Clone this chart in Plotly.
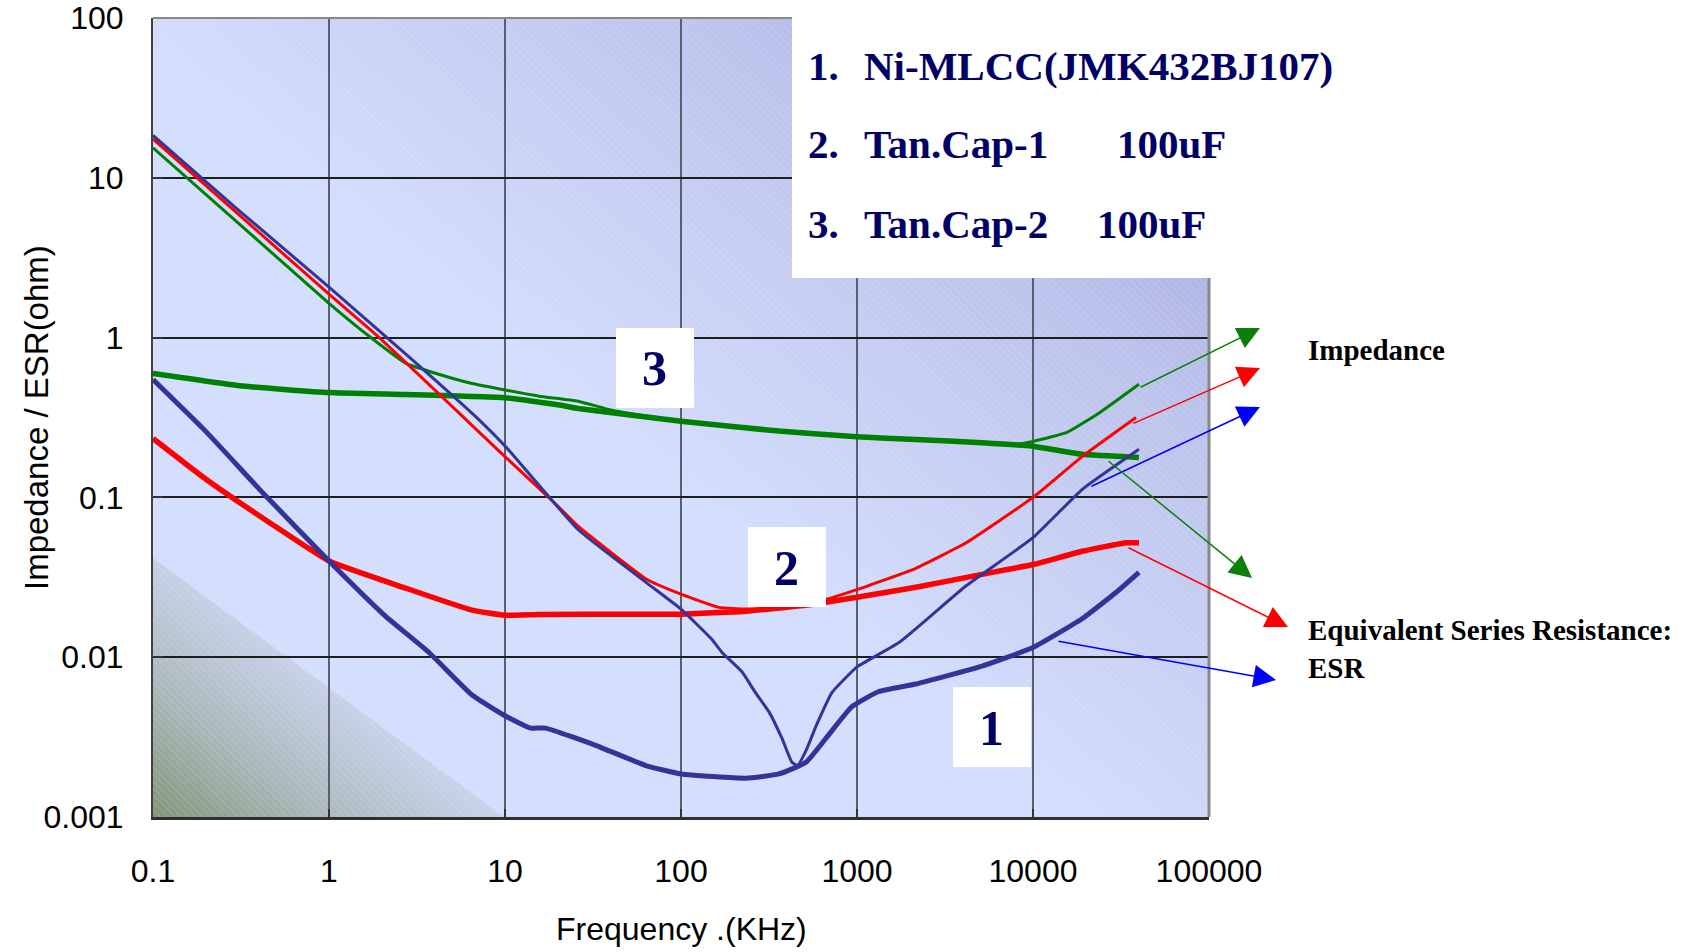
import base64
import plotly.graph_objects as go

# ---------------- data (frequency in kHz, value in ohm) ----------------
f_mlcc_z = [0.1, 0.3, 1, 3, 7.1, 10, 26, 63, 100, 150, 171, 222, 265, 318, 375, 427, 460, 513, 585, 720, 900, 1000, 1740, 4170, 10000, 19000, 40000]
z_mlcc_z = [18.4, 6.4, 2.07, 0.72, 0.307, 0.21, 0.063, 0.0295, 0.02, 0.0129, 0.0107, 0.0081, 0.006, 0.0045, 0.0031, 0.0022, 0.0021, 0.0026, 0.0037, 0.006, 0.0078, 0.0087, 0.0124, 0.028, 0.056, 0.112, 0.2]

f_mlcc_esr = [0.1, 0.2, 0.42, 1, 2.1, 3.7, 6.5, 10, 14, 17, 33, 63, 100, 234, 360, 513, 665, 935, 1330, 2160, 5130, 10000, 19000, 29700, 40000]
z_mlcc_esr = [0.546, 0.258, 0.107, 0.040, 0.018, 0.0107, 0.0058, 0.0043, 0.0036, 0.0036, 0.0028, 0.0021, 0.00186, 0.00175, 0.00186, 0.0022, 0.0031, 0.0049, 0.0061, 0.0068, 0.0088, 0.0115, 0.0174, 0.0255, 0.034]

f_tan1_z = [0.1, 1, 1.93, 10, 20, 26, 63, 100, 164, 234, 360, 660, 1000, 2160, 4170, 10000, 19000, 38500]
z_tan1_z = [17.5, 1.87, 1.0, 0.18, 0.088, 0.066, 0.031, 0.0248, 0.0205, 0.02, 0.0205, 0.023, 0.0265, 0.036, 0.052, 0.1, 0.18, 0.316]

f_tan1_esr = [0.1, 0.2, 0.474, 1, 2.74, 6.5, 10, 15.6, 50, 100, 234, 550, 1000, 2160, 5130, 10000, 19000, 34000, 40000]
z_tan1_esr = [0.234, 0.13, 0.068, 0.04, 0.027, 0.0197, 0.0183, 0.0185, 0.0186, 0.0186, 0.0194, 0.0214, 0.0237, 0.0274, 0.033, 0.038, 0.046, 0.052, 0.052]

f_tan2_z = [0.1, 1, 1.75, 2.74, 4.2, 6.5, 10, 15.6, 26, 41, 100, 360, 1000, 2160, 5130, 8000, 10000, 15600, 24000, 40000]
z_tan2_z = [15.4, 1.64, 0.99, 0.69, 0.59, 0.516, 0.47, 0.43, 0.40, 0.35, 0.30, 0.26, 0.24, 0.23, 0.22, 0.215, 0.224, 0.255, 0.34, 0.51]

f_tan2_esr = [0.1, 0.31, 1, 2.74, 10, 20, 26, 100, 360, 1000, 2160, 5130, 10000, 19000, 40000]
z_tan2_esr = [0.596, 0.5, 0.453, 0.44, 0.42, 0.38, 0.36, 0.30, 0.26, 0.24, 0.23, 0.22, 0.209, 0.186, 0.178]

x_ticks = [0.1, 1, 10, 100, 1000, 10000, 100000]
x_ticktext = ["0.1", "1", "10", "100", "1000", "10000", "100000"]
y_ticks = [0.001, 0.01, 0.1, 1, 10, 100]
y_ticktext = ["0.001", "0.01", "0.1", "1", "10", "100"]

legend_lines = [("1.", "Ni-MLCC(JMK432BJ107)", ""), ("2.", "Tan.Cap-1", "100uF"), ("3.", "Tan.Cap-2", "100uF")]

# ---------------- layout geometry (pixels) ----------------
W, H = 1689, 952
L, R, T, B = 153, 1209, 18, 817
PW, PH = R - L, B - T


def px(x):
    return (x - L) / PW


def py(y):
    return (B - y) / PH


NAVY = "#333399"
RED = "#ff0000"
GREEN = "#008000"
TXT_NAVY = "#000066"
SANS = "Liberation Sans, Arial, sans-serif"
SERIF = "Liberation Serif, Times New Roman, serif"

# ---------------- background (gradient + hatch) ----------------
svg = f'''<svg xmlns="http://www.w3.org/2000/svg" width="{PW}" height="{PH}" viewBox="0 0 {PW} {PH}" preserveAspectRatio="none">
<defs>
<linearGradient id="g" gradientUnits="userSpaceOnUse" x1="603" y1="549" x2="{PW}" y2="0">
<stop offset="0" stop-color="#d4defd"/><stop offset="0.55" stop-color="#bcc3ec"/><stop offset="1" stop-color="#9ca0d2"/></linearGradient>
<linearGradient id="gc" gradientUnits="userSpaceOnUse" x1="0" y1="{PH}" x2="131" y2="630">
<stop offset="0" stop-color="#7f9677" stop-opacity="1"/><stop offset="0.5" stop-color="#a6b4b4" stop-opacity="0.9"/><stop offset="1" stop-color="#c4cde2" stop-opacity="0.75"/></linearGradient>
<pattern id="h" patternUnits="userSpaceOnUse" width="5" height="5" patternTransform="rotate(-45)">
<line x1="0" y1="0" x2="0" y2="5" stroke="#ffffff" stroke-opacity="0.28" stroke-width="1"/></pattern>
</defs>
<rect width="{PW}" height="{PH}" fill="#d4defd"/>
<polygon points="0,0 {PW},0 {PW},{PH} 907,{PH} 0,52" fill="url(#g)"/>
<polygon points="0,0 {PW},0 {PW},{PH} 907,{PH} 0,52" fill="url(#h)"/>
<polygon points="0,540 0,{PH} 351,{PH}" fill="url(#gc)"/>
<polygon points="0,540 0,{PH} 351,{PH}" fill="url(#h)"/>
</svg>'''
svg_uri = "data:image/svg+xml;base64," + base64.b64encode(svg.encode()).decode()

fig = go.Figure()

traces = [
    (f_tan2_z, z_tan2_z, GREEN, 3),
    (f_tan2_esr, z_tan2_esr, GREEN, 5.5),
    (f_tan1_z, z_tan1_z, RED, 3),
    (f_tan1_esr, z_tan1_esr, RED, 5.5),
    (f_mlcc_z, z_mlcc_z, NAVY, 3),
    (f_mlcc_esr, z_mlcc_esr, NAVY, 5),
]
for fx, zy, col, w in traces:
    fig.add_trace(go.Scatter(x=fx, y=zy, mode="lines",
                             line=dict(color=col, width=w, shape="spline", smoothing=0.4),
                             showlegend=False, hoverinfo="skip"))

shapes = [
    dict(type="line", xref="paper", yref="paper", x0=px(L), x1=px(R), y0=py(T), y1=py(T),
         line=dict(color="#888888", width=2), layer="above"),
    dict(type="line", xref="paper", yref="paper", x0=px(R), x1=px(R), y0=py(T), y1=py(B),
         line=dict(color="#888888", width=3), layer="above"),
    # legend box
    dict(type="rect", xref="paper", yref="paper", x0=px(792), x1=px(1216), y0=py(278), y1=py(0),
         fillcolor="white", line=dict(width=0), layer="above"),
    # number boxes
    dict(type="rect", xref="paper", yref="paper", x0=px(616), x1=px(694), y0=py(408), y1=py(328),
         fillcolor="white", line=dict(width=0), layer="above"),
    dict(type="rect", xref="paper", yref="paper", x0=px(748), x1=px(826), y0=py(607), y1=py(527),
         fillcolor="white", line=dict(width=0), layer="above"),
    dict(type="rect", xref="paper", yref="paper", x0=px(953), x1=px(1031), y0=py(767), y1=py(687),
         fillcolor="white", line=dict(width=0), layer="above"),
]

ann = []
# legend lines
leg_y = [66, 144, 224]
third_x = [None, 1115, 1095]
for i, (a, b, c) in enumerate(legend_lines):
    ann.append(dict(x=px(806), y=py(leg_y[i]), text=f"<b>{a}</b>"))
    ann.append(dict(x=px(862), y=py(leg_y[i]), text=f"<b>{b}</b>"))
    if c:
        ann.append(dict(x=px(third_x[i]), y=py(leg_y[i]), text=f"<b>{c}</b>"))
for a in ann:
    a.update(xref="paper", yref="paper", xanchor="left", yanchor="middle", showarrow=False,
             font=dict(family=SERIF, size=41, color=TXT_NAVY))

# number labels
for t, (cx, cy) in zip(["3", "2", "1"], [(654, 368), (786, 568), (991, 728)]):
    ann.append(dict(x=px(cx), y=py(cy), xref="paper", yref="paper", text=f"<b>{t}</b>",
                    showarrow=False, xanchor="center", yanchor="middle",
                    font=dict(family=SERIF, size=50, color=TXT_NAVY)))

# right side texts
for t, cy in [("Impedance", 350), ("Equivalent Series Resistance:", 630), ("ESR", 668)]:
    ann.append(dict(x=px(1306), y=py(cy), xref="paper", yref="paper", text=f"<b>{t}</b>",
                    showarrow=False, xanchor="left", yanchor="middle",
                    font=dict(family=SERIF, size=29, color="black")))

# arrows: (tail, tip, colour)
arrows = [
    ((1139, 388), (1260, 328), "#0a7f0a"),
    ((1132, 424), (1260, 368), "#ff0000"),
    ((1090, 487), (1260, 407), "#0000ff"),
    ((1107, 460), (1252, 578), "#0a7f0a"),
    ((1127, 547), (1288, 627), "#ff0000"),
    ((1057, 641), (1276, 680), "#0000ff"),
]
for (tx, ty), (hx, hy), col in arrows:
    ann.append(dict(x=px(hx), y=py(hy), xref="paper", yref="paper", ax=tx - hx, ay=ty - hy,
                    axref="pixel", ayref="pixel", text="", showarrow=True,
                    arrowhead=2, arrowsize=3.0, arrowwidth=1.5, arrowcolor=col, standoff=0))

# axis titles
ann.append(dict(x=px(681), y=py(929), xref="paper", yref="paper", text="Frequency .(KHz)",
                showarrow=False, xanchor="center", yanchor="middle",
                font=dict(family=SANS, size=32, color="black")))
ann.append(dict(x=px(36), y=py(418), xref="paper", yref="paper", text="Impedance / ESR(ohm)",
                showarrow=False, xanchor="center", yanchor="middle", textangle=-90,
                font=dict(family=SANS, size=33, color="black")))

fig.update_layout(
    width=W, height=H,
    margin=dict(l=L, r=W - R, t=T, b=H - B, pad=0, autoexpand=False),
    paper_bgcolor="white", plot_bgcolor="rgba(0,0,0,0)",
    shapes=shapes, annotations=ann,
    images=[dict(source=svg_uri, xref="paper", yref="paper", x=0, y=1, sizex=1, sizey=1,
                 xanchor="left", yanchor="top", sizing="stretch", layer="below")],
    hovermode=False,
)
fig.update_xaxes(type="log", range=[-1, 5], tickvals=x_ticks, ticktext=x_ticktext,
                 showgrid=True, gridcolor="#5a5f70", gridwidth=2,
                 showline=True, linecolor="#303030", linewidth=3,
                 ticks="inside", ticklen=8, tickwidth=2, tickcolor="#333333",
                 ticklabelstandoff=24, ticklabeloverflow="allow", automargin=False, zeroline=False,
                 tickfont=dict(family=SANS, size=32, color="black"))
fig.update_yaxes(type="log", range=[-3, 2], tickvals=y_ticks, ticktext=y_ticktext,
                 showgrid=True, gridcolor="#1e1e1e", gridwidth=1.5,
                 showline=True, linecolor="#404040", linewidth=2,
                 ticks="inside", ticklen=10, tickwidth=2, tickcolor="#333333",
                 ticklabelstandoff=21, ticklabeloverflow="allow", automargin=False, zeroline=False,
                 tickfont=dict(family=SANS, size=32, color="black"))

fig.write_html("out.html")
